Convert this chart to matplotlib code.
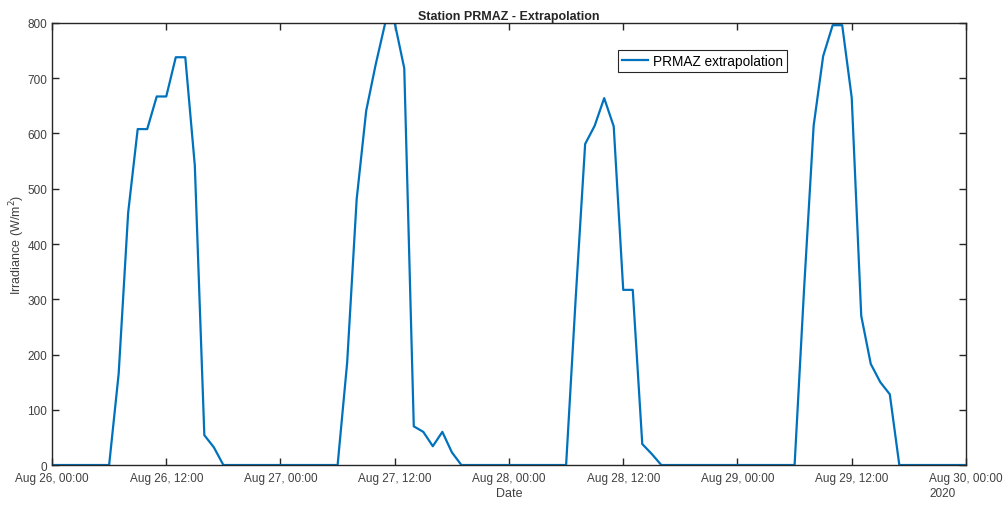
import numpy as np
import pandas as pd
import matplotlib
matplotlib.use("Agg")
import matplotlib.pyplot as plt
import matplotlib.dates as mdates

plt.rcParams['font.family'] = ['Liberation Sans', 'DejaVu Sans']

# hourly irradiance, Aug 26 00:00 .. Aug 30 00:00 (W/m^2)
day1 = [0, 0, 0, 0, 0, 0, 0, 165, 457, 608, 608, 667, 667, 738, 738, 542,
        54, 32, 0, 0, 0, 0, 0, 0]
day2 = [0, 0, 0, 0, 0, 0, 0, 185, 481, 641, 725, 800, 800, 718, 70, 60,
        34, 60, 23, 0, 0, 0, 0, 0]
day3 = [0, 0, 0, 0, 0, 0, 0, 300, 581, 614, 664, 613, 317, 317, 38, 20,
        0, 0, 0, 0, 0, 0, 0, 0]
day4 = [0, 0, 0, 0, 0, 0, 0, 320, 614, 740, 796, 796, 665, 270, 183, 150,
        128, 0, 0, 0, 0, 0, 0, 0]
last = [0]
irradiance = day1 + day2 + day3 + day4 + last
times = pd.date_range("2020-08-26 00:00", periods=len(irradiance), freq="h")

y_ticks = [0, 100, 200, 300, 400, 500, 600, 700, 800]

AX_COLOR = "#262626"
TXT = "#404040"
fig = plt.figure(figsize=(10.06, 5.06), dpi=100)
ax = fig.add_axes([0.0517, 0.079, 0.9085, 0.8736])

ax.plot(times, irradiance, color="#0072BD", lw=1.6, label="PRMAZ extrapolation")

ax.set_xlim(times[0], times[-1])
ax.set_ylim(0, 800)
ax.set_yticks(y_ticks)
ax.xaxis.set_major_locator(mdates.HourLocator(byhour=[0, 12]))
ax.xaxis.set_major_formatter(mdates.DateFormatter("%b %d, %H:%M"))

for s in ax.spines.values():
    s.set_color(AX_COLOR)
    s.set_linewidth(1.0)
ax.tick_params(direction="in", top=True, right=True, length=5, width=1.0,
               colors=AX_COLOR, labelsize=8.5, labelcolor=TXT)
ax.tick_params(axis="x", pad=5)

ax.set_title("Station PRMAZ - Extrapolation", fontsize=9, fontweight="bold",
             color="#262626", pad=3)
ax.set_xlabel("Date", fontsize=9, color=TXT, labelpad=2)
ax.set_ylabel("Irradiance (W/m$^2$)", fontsize=9, color=TXT, labelpad=0)

leg = ax.legend(loc="upper left", bbox_to_anchor=(0.619, 0.94), fontsize=9.8,
                fancybox=False, framealpha=1, edgecolor=AX_COLOR,
                handlelength=1.9, handletextpad=0.4, borderpad=0.3,
                borderaxespad=0)
leg.get_frame().set_linewidth(0.8)

# year under the last tick label, left-aligned with it (MATLAB style)
fig.canvas.draw()
last_lbl = [t for t in ax.get_xticklabels() if t.get_text()][-1]
bb = last_lbl.get_window_extent()
fig.text(bb.x0 / fig.dpi / fig.get_figwidth(), (bb.y0 - 3) / fig.dpi / fig.get_figheight(),
         "2020", ha="left", va="top", fontsize=8.5, color=TXT)

fig.savefig("out.png", dpi=100)
